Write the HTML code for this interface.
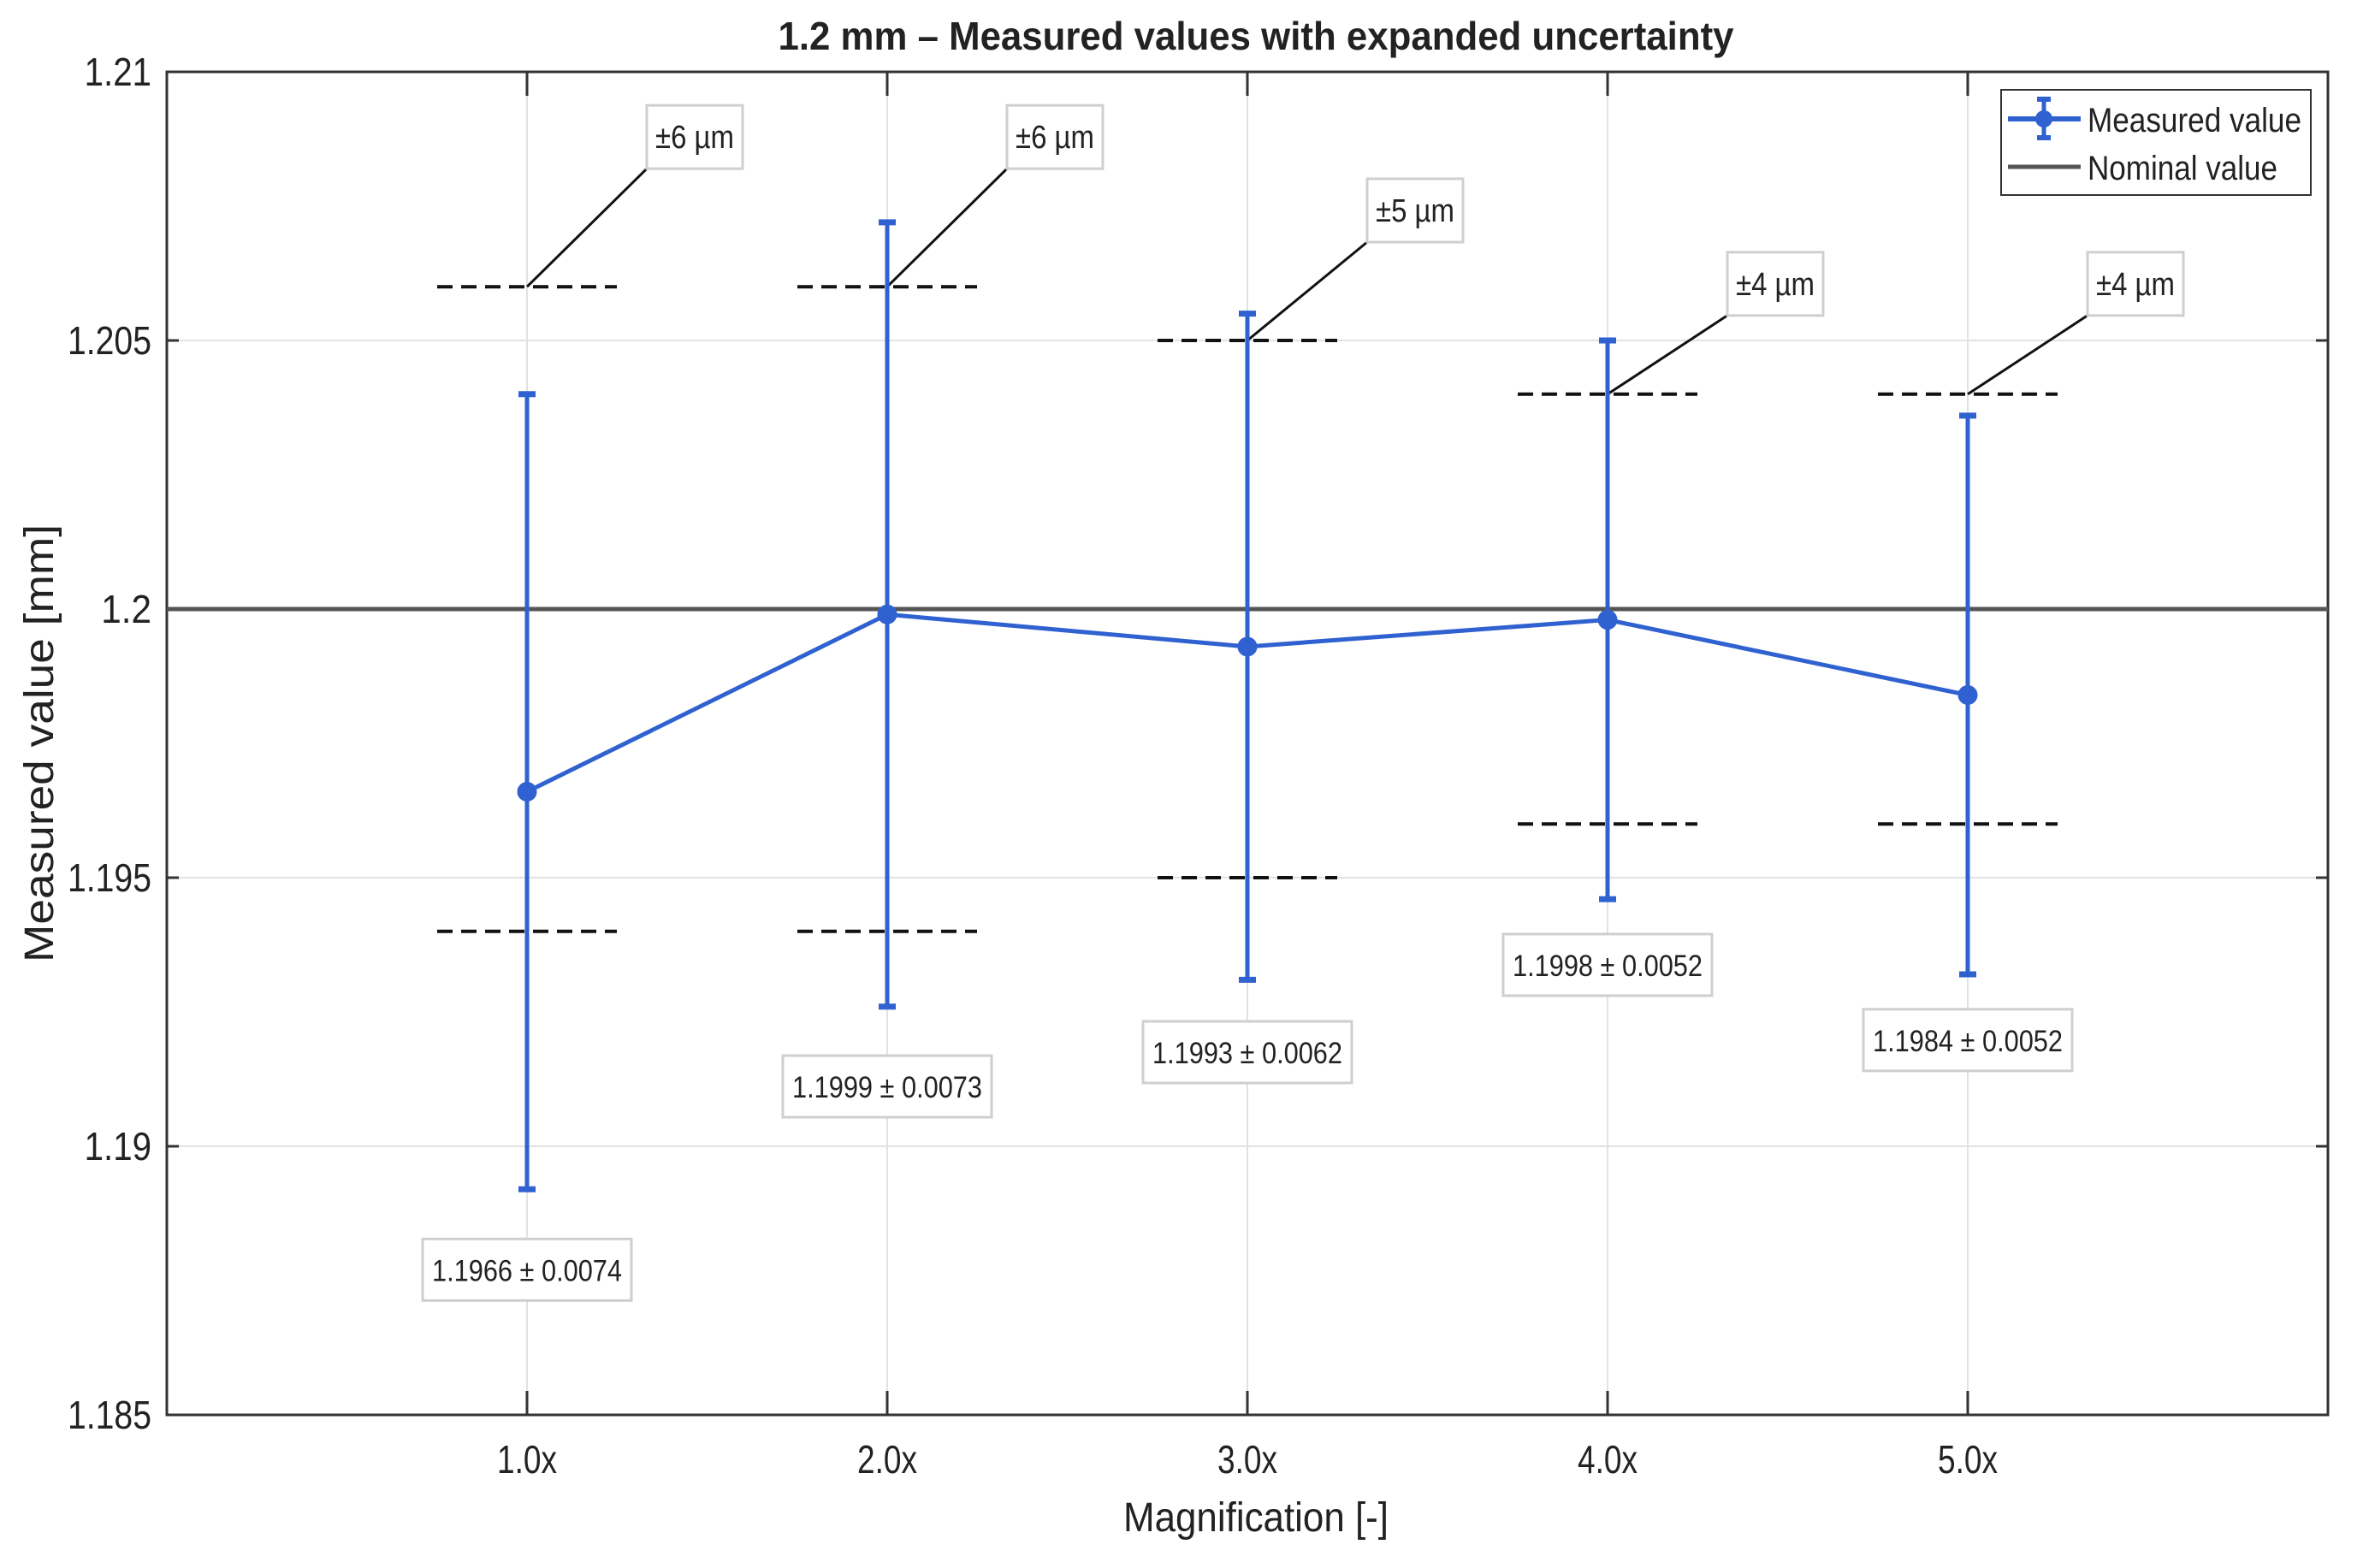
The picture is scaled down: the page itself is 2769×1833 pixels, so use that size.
<!DOCTYPE html>
<html><head><meta charset="utf-8"><style>
html,body{margin:0;padding:0;background:#fff}
svg{display:block}
text{font-family:"Liberation Sans",sans-serif;fill:#222}
</style></head><body>
<svg id="chart" width="2769" height="1833" viewBox="0 0 2769 1833" xmlns="http://www.w3.org/2000/svg"></svg>
<script>
const categories = ["1.0x","2.0x","3.0x","4.0x","5.0x"];
const measured = [1.1966, 1.1999, 1.1993, 1.1998, 1.1984];
const uncertainty = [0.0074, 0.0073, 0.0062, 0.0052, 0.0052];
const tolerance = [0.006, 0.006, 0.005, 0.004, 0.004];
const toleranceLabels = ["±6 µm","±6 µm","±5 µm","±4 µm","±4 µm"];
const valueLabels = ["1.1966 ± 0.0074","1.1999 ± 0.0073","1.1993 ± 0.0062","1.1998 ± 0.0052","1.1984 ± 0.0052"];
const nominal = 1.2;
const yTicks = [1.185, 1.19, 1.195, 1.2, 1.205, 1.21];
const yTickLabels = ["1.185","1.19","1.195","1.2","1.205","1.21"];

const L=195, R=2721, T=84, B=1654;
const yMin=1.185, yMax=1.21;
const X = i => L + (i+1)*(R-L)/6;
const Y = v => B - (v-yMin)/(yMax-yMin)*(B-T);
const NS="http://www.w3.org/2000/svg";
const svg=document.getElementById('chart');
function mk(tag, attrs, parent){const e=document.createElementNS(NS,tag);for(const k in attrs)e.setAttribute(k,attrs[k]);(parent||svg).appendChild(e);return e;}
function fit(t,w){t.setAttribute('textLength',w);t.setAttribute('lengthAdjust','spacingAndGlyphs');}
const BLUE="#2f62d0";

const grid=mk('g',{});


yTicks.forEach(v=>mk('line',{x1:L,x2:R,y1:Y(v),y2:Y(v),stroke:'#e2e2e2','stroke-width':2},grid));
categories.forEach((c,i)=>mk('line',{x1:X(i),x2:X(i),y1:T,y2:B,stroke:'#e2e2e2','stroke-width':2},grid));

const box=mk('rect',{x:L,y:T,width:R-L,height:B-T,fill:'none',stroke:'#333','stroke-width':3});



yTicks.forEach((v,i)=>{
  mk('line',{x1:L,x2:L+14,y1:Y(v),y2:Y(v),stroke:'#333','stroke-width':3});
  mk('line',{x1:R,x2:R-14,y1:Y(v),y2:Y(v),stroke:'#333','stroke-width':3});
  const t=mk('text',{x:177,y:Y(v)+16,'text-anchor':'end','font-size':46});
  t.textContent=yTickLabels[i];
  fit(t, yTickLabels[i].length*19.6);
  
  
});
categories.forEach((c,i)=>{
  mk('line',{x1:X(i),x2:X(i),y1:B,y2:B-28,stroke:'#333','stroke-width':3});
  mk('line',{x1:X(i),x2:X(i),y1:T,y2:T+28,stroke:'#333','stroke-width':3});
  const t=mk('text',{x:X(i),y:1722,'text-anchor':'middle','font-size':46});
  t.textContent=c;
  fit(t,70);
  
  
});

categories.forEach((c,i)=>{
  const yu=Y(nominal+tolerance[i]), yl=Y(nominal-tolerance[i]);
  [yu,yl].forEach(yy=>{
    const d=mk('line',{x1:X(i)-105,x2:X(i)+105,y1:yy,y2:yy,stroke:'#111','stroke-width':4,'stroke-dasharray':'18 10'});
    
    
  });
  const bx=X(i)+140, by=yu-tolerance[i]*23000;
  mk('line',{x1:X(i),y1:yu,x2:bx,y2:by,stroke:'#111','stroke-width':3});
  const g=mk('g',{});
  
  
  mk('rect',{x:bx,y:by-74,width:112,height:74,fill:'#fff',stroke:'#cfcfcf','stroke-width':3},g);
  const t=mk('text',{x:bx+56,y:by-24,'text-anchor':'middle','font-size':38},g);
  t.textContent=toleranceLabels[i];
  fit(t,92);
});

const nl=mk('line',{x1:L,x2:R,y1:Y(nominal),y2:Y(nominal),stroke:'#555','stroke-width':5});



categories.forEach((c,i)=>{
  const top=Y(measured[i]+uncertainty[i]), bot=Y(measured[i]-uncertainty[i]);
  const g=mk('g',{stroke:BLUE,'stroke-width':5});
  
  
  mk('line',{x1:X(i),x2:X(i),y1:top,y2:bot},g);
  mk('line',{x1:X(i)-10,x2:X(i)+10,y1:top,y2:top,'stroke-width':7},g);
  mk('line',{x1:X(i)-10,x2:X(i)+10,y1:bot,y2:bot,'stroke-width':7},g);
  const lg=mk('g',{});
  
  
  const bt=Y(measured[i]-1.125*uncertainty[i]);
  mk('rect',{x:X(i)-122,y:bt,width:244,height:72,fill:'#fff',stroke:'#cfcfcf','stroke-width':3},lg);
  const t=mk('text',{x:X(i),y:bt+49,'text-anchor':'middle','font-size':35},lg);
  t.textContent=valueLabels[i];
  fit(t,222);
});

const pts=measured.map((v,i)=>X(i)+','+Y(v)).join(' ');
const pl=mk('polyline',{points:pts,fill:'none',stroke:BLUE,'stroke-width':5});


measured.forEach((v,i)=>{
  const c=mk('circle',{cx:X(i),cy:Y(v),r:10,fill:BLUE,stroke:BLUE,'stroke-width':3});
  
  
});

const lg=mk('g',{});


mk('rect',{x:2339,y:105,width:362,height:123,fill:'#fff',stroke:'#333','stroke-width':2},lg);
mk('line',{x1:2347,x2:2432,y1:139,y2:139,stroke:BLUE,'stroke-width':6},lg);
mk('line',{x1:2389,x2:2389,y1:116,y2:161,stroke:BLUE,'stroke-width':5},lg);
mk('line',{x1:2381,x2:2397,y1:116,y2:116,stroke:BLUE,'stroke-width':6},lg);
mk('line',{x1:2381,x2:2397,y1:161,y2:161,stroke:BLUE,'stroke-width':6},lg);
mk('circle',{cx:2389,cy:139,r:10,fill:BLUE},lg);
mk('line',{x1:2347,x2:2432,y1:195,y2:195,stroke:'#555','stroke-width':5},lg);
const l1=mk('text',{x:2440,y:154,'font-size':40},lg);l1.textContent='Measured value';fit(l1,250);


const l2=mk('text',{x:2440,y:210,'font-size':40},lg);l2.textContent='Nominal value';fit(l2,222);



const tt=mk('text',{x:1468,y:58,'text-anchor':'middle','font-size':46,'font-weight':'bold'});
tt.textContent='1.2 mm – Measured values with expanded uncertainty';fit(tt,1117);


const xt=mk('text',{x:1468,y:1790,'text-anchor':'middle','font-size':48});
xt.textContent='Magnification [-]';fit(xt,310);


const yt=mk('text',{x:0,y:0,'text-anchor':'middle','font-size':48,transform:'translate(62,869) rotate(-90)'});
yt.textContent='Measured value [mm]';fit(yt,512);


</script>
</body></html>
